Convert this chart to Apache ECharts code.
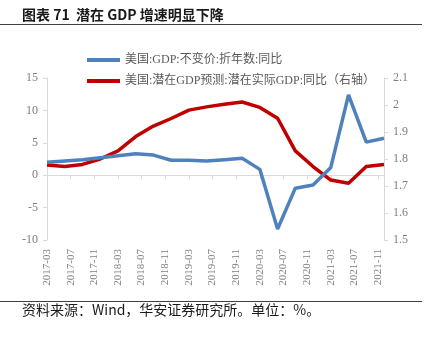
<!DOCTYPE html>
<html>
<head>
<meta charset="utf-8">
<style>
  html, body { margin: 0; padding: 0; background: #fff; }
  #chart { width: 429px; height: 338px; }
</style>
<script src="https://cdn.jsdelivr.net/npm/echarts@6/dist/echarts.min.js"></script>
</head>
<body>
<div id="chart"></div>
<script>
// Quarter-end months of the two series
const quarters = [
  '2017-03', '2017-06', '2017-09', '2017-12',
  '2018-03', '2018-06', '2018-09', '2018-12',
  '2019-03', '2019-06', '2019-09', '2019-12',
  '2020-03', '2020-06', '2020-09', '2020-12',
  '2021-03', '2021-06', '2021-09', '2021-12'
];
// US real GDP, YoY (%), left axis
const gdpYoY = [
  2.0, 2.2, 2.4, 2.7,
  3.0, 3.3, 3.1, 2.3,
  2.3, 2.2, 2.4, 2.6,
  0.9, -8.3, -2.0, -1.5,
  1.2, 12.4, 5.1, 5.7
];
// US potential real GDP forecast, YoY (%), right axis
const potentialYoY = [
  1.778, 1.772, 1.780, 1.800,
  1.830, 1.883, 1.922, 1.950,
  1.981, 1.993, 2.003, 2.011,
  1.991, 1.951, 1.830, 1.772,
  1.722, 1.710, 1.772, 1.780
];
const seriesNames = [
  '美国:GDP:不变价:折年数:同比',
  '美国:潜在GDP预测:潜在实际GDP:同比（右轴）'
];
const titleText = '图表 71  潜在 GDP 增速明显下降';
const sourceText = '资料来源：Wind，华安证券研究所。单位：%。';

// Monthly axis from the first to the last quarter
function buildMonths(first, last) {
  const out = [];
  let [y, m] = first.split('-').map(Number);
  const [ly, lm] = last.split('-').map(Number);
  while (y < ly || (y === ly && m <= lm)) {
    out.push(y + '-' + String(m).padStart(2, '0'));
    m++;
    if (m > 12) { m = 1; y++; }
  }
  return out;
}
const months = buildMonths(quarters[0], quarters[quarters.length - 1]);

const serif = "'Liberation Serif', 'Noto Sans CJK SC', serif";
const axisGray = '#d9d9d9';
const labelGray = '#7f7f7f';

const chart = echarts.init(document.getElementById('chart'), null, { renderer: 'canvas' });
chart.setOption({
  animation: false,
  backgroundColor: '#fff',
  graphic: [
    { type: 'text', left: 22, top: 8,
      style: { text: titleText, font: "bold 14px 'Noto Sans CJK SC', sans-serif", fill: '#1a1a1a' } },
    { type: 'line', shape: { x1: 0, y1: 24.5, x2: 422, y2: 24.5 },
      style: { stroke: '#404040', lineWidth: 1 } },
    { type: 'line', shape: { x1: 0, y1: 301.5, x2: 422, y2: 301.5 },
      style: { stroke: '#404040', lineWidth: 1 } },
    { type: 'text', left: 22, top: 303,
      style: { text: sourceText, font: "14px 'Noto Sans CJK SC', sans-serif", fill: '#1a1a1a' } }
  ],
  legend: {
    orient: 'vertical',
    left: 82,
    top: 49,
    icon: 'rect',
    itemWidth: 33,
    itemHeight: 4,
    itemGap: 9,
    data: seriesNames,
    textStyle: { fontFamily: serif, fontSize: 12, color: '#595959' }
  },
  grid: { left: 47, right: 45, top: 78, bottom: 98, containLabel: false },
  xAxis: [
    {
      type: 'category',
      data: months,
      boundaryGap: false,
      position: 'bottom',
      axisLine: { show: false, onZero: false },
      axisTick: { show: false },
      axisLabel: {
        interval: 3, rotate: 90, margin: 9,
        fontFamily: serif, fontSize: 11, color: labelGray
      },
      splitLine: { show: false }
    },
    {
      type: 'category',
      data: months,
      boundaryGap: false,
      position: 'bottom',
      axisLine: { show: true, onZero: true, onZeroAxisIndex: 0, lineStyle: { color: axisGray, width: 1 } },
      axisTick: { show: true, interval: 3, length: 4, lineStyle: { color: axisGray } },
      axisLabel: { show: false },
      splitLine: { show: false }
    }
  ],
  yAxis: [
    {
      type: 'value',
      min: -10, max: 15, interval: 5,
      axisLine: { show: true, lineStyle: { color: axisGray } },
      axisTick: { show: true, length: 4, lineStyle: { color: axisGray } },
      axisLabel: { fontFamily: serif, fontSize: 12, color: labelGray, margin: 9 },
      splitLine: { show: false }
    },
    {
      type: 'value',
      min: 1.5, max: 2.1, interval: 0.1,
      position: 'right',
      axisLine: { show: true, lineStyle: { color: axisGray } },
      axisTick: { show: true, length: 4, lineStyle: { color: axisGray } },
      axisLabel: {
        fontFamily: serif, fontSize: 12, color: labelGray, margin: 9,
        formatter: v => String(Math.round(v * 10) / 10)
      },
      splitLine: { show: false }
    }
  ],
  series: [
    {
      name: seriesNames[0],
      type: 'line',
      xAxisIndex: 0,
      yAxisIndex: 0,
      data: quarters.map((q, i) => [q, gdpYoY[i]]),
      symbol: 'none',
      lineStyle: { color: '#4F81BD', width: 3.5 },
      itemStyle: { color: '#4F81BD' },
      z: 3
    },
    {
      name: seriesNames[1],
      type: 'line',
      xAxisIndex: 0,
      yAxisIndex: 1,
      data: quarters.map((q, i) => [q, potentialYoY[i]]),
      symbol: 'none',
      lineStyle: { color: '#C00000', width: 3.5 },
      itemStyle: { color: '#C00000' },
      z: 2
    }
  ]
});
</script>
</body>
</html>
